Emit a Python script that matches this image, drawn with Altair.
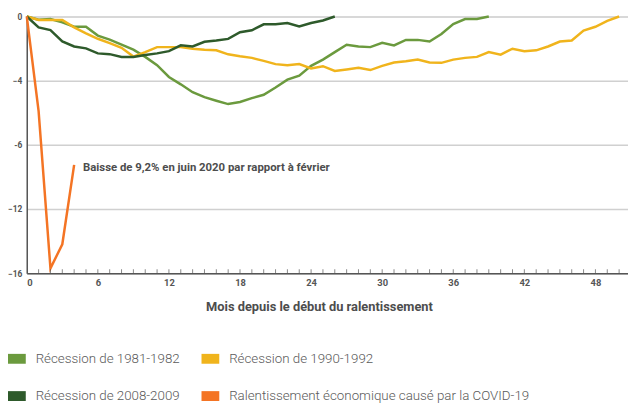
import altair as alt
import pandas as pd

FONT = "Roboto, Liberation Sans, sans-serif"

series_names = [
    "Récession de 1981-1982",
    "Récession de 1990-1992",
    "Récession de 2008-2009",
    "Ralentissement économique causé par la COVID-19",
]
colors = ["#6b9a3e", "#f0b41c", "#2e5a2b", "#f47424"]

months_1981 = list(range(0, 40))
vals_1981 = [0, -0.2, -0.16, -0.37, -0.64, -0.64, -1.19, -1.44, -1.76, -2.07,
             -2.52, -3.04, -3.77, -4.23, -4.72, -5.03, -5.25, -5.46, -5.33, -5.09,
             -4.88, -4.43, -3.94, -3.69, -3.08, -2.69, -2.22, -1.76, -1.87, -1.91,
             -1.64, -1.80, -1.46, -1.46, -1.56, -1.09, -0.47, -0.16, -0.16, 0]

months_1990 = list(range(0, 51))
vals_1990 = [0, -0.22, -0.22, -0.22, -0.68, -1.05, -1.39, -1.66, -1.95, -2.5,
             -2.22, -1.91, -1.91, -1.91, -2.01, -2.08, -2.11, -2.36, -2.48, -2.58,
             -2.77, -2.97, -3.04, -2.97, -3.24, -3.10, -3.40, -3.30, -3.20, -3.34,
             -3.08, -2.87, -2.79, -2.69, -2.87, -2.89, -2.69, -2.58, -2.52, -2.22,
             -2.38, -2.01, -2.17, -2.11, -1.87, -1.56, -1.50, -0.88, -0.64, -0.27, 0]

months_2008 = list(range(0, 27))
vals_2008 = [0, -0.68, -0.85, -1.55, -1.87, -1.99, -2.3, -2.35, -2.52, -2.52,
             -2.4, -2.3, -2.16, -1.8, -1.87, -1.58, -1.5, -1.40, -0.98, -0.86,
             -0.49, -0.49, -0.41, -0.62, -0.41, -0.25, 0]

months_covid = [0, 1, 2, 3, 4]
vals_covid = [0, -5.9, -15.7, -14.2, -9.25]

y_tick_values = [-16, -12, -8, -4, 0]
x_label_values = [0, 6, 12, 18, 24, 30, 36, 42, 48]
minor_tick_months = list(range(1, 51))

ann_x = [4.75]
ann_y = [-9.42]
ann_text = ["Baisse de 9,2% en juin 2020 par rapport à février"]

rows = []
for name, ms, vs in [
    (series_names[0], months_1981, vals_1981),
    (series_names[1], months_1990, vals_1990),
    (series_names[2], months_2008, vals_2008),
    (series_names[3], months_covid, vals_covid),
]:
    for m, v in zip(ms, vs):
        rows.append({"serie": name, "mois": m, "val": v})
df_lines = pd.DataFrame(rows)
df_ticks = pd.DataFrame({"mois": minor_tick_months, "val": [-16] * len(minor_tick_months)})
df_ann = pd.DataFrame({"mois": ann_x, "val": ann_y, "txt": ann_text})

xscale = alt.Scale(domain=[0, 50.75], nice=False, zero=False)
yscale = alt.Scale(domain=[-16, 0], nice=False, zero=False)

x_enc = alt.X(
    "mois:Q",
    scale=xscale,
    title="Mois depuis le début du ralentissement",
    axis=alt.Axis(
        values=x_label_values,
        ticks=False,
        grid=False,
        domainColor="#555555",
        domainWidth=1.5,
        labelFont=FONT,
        labelFontSize=9.5,
        labelFontWeight="bold",
        labelColor="#555555",
        labelPadding=4,
        titleFont=FONT,
        titleFontSize=13,
        titleFontWeight="bold",
        titleColor="#4d4d4d",
        titleX=296,
        titleY=34,
        titleAlign="center",
        titleBaseline="middle",
    ),
)
y_enc = alt.Y(
    "val:Q",
    scale=yscale,
    title=None,
    axis=alt.Axis(
        values=y_tick_values,
        labelExpr="datum.value == -8 ? '-6' : datum.label",
        ticks=False,
        grid=True,
        gridColor="#d0d0d0",
        gridWidth=1.5,
        domainColor="#555555",
        domainWidth=1.5,
        labelFont=FONT,
        labelFontSize=8.5,
        labelFontWeight="bold",
        labelColor="#555555",
        labelPadding=5,
    ),
)
color_enc = alt.Color(
    "serie:N",
    scale=alt.Scale(domain=series_names, range=colors),
    sort=series_names,
    legend=alt.Legend(
        title=None,
        orient="none",
        direction="horizontal",
        legendX=-19.5,
        legendY=337,
        padding=0,
        columns=2,
        columnPadding=1,
        rowPadding=-3,
        symbolType="M-2,0L2,0",
        symbolSize=81,
        symbolStrokeWidth=10,
        labelFont=FONT,
        labelFontSize=13.5,
        labelFontWeight=300,
        labelColor="#5a5a5a",
        labelOffset=9.5,
        labelLimit=400,
    ),
)

lines = alt.Chart(df_lines).mark_line(strokeWidth=2.5).encode(
    x=x_enc, y=y_enc, color=color_enc, detail="serie:N"
)
minor_ticks = alt.Chart(df_ticks).mark_tick(
    orient="vertical", size=4, thickness=1, yOffset=-2, color="#555555"
).encode(x=alt.X("mois:Q", scale=xscale), y=alt.Y("val:Q", scale=yscale))
annotation = alt.Chart(df_ann).mark_text(
    align="left", baseline="middle", font=FONT, fontSize=11.5, fontWeight="bold", color="#4d4d4d"
).encode(x=alt.X("mois:Q", scale=xscale), y=alt.Y("val:Q", scale=yscale), text="txt:N")

chart = (
    alt.layer(lines, minor_ticks, annotation)
    .properties(
        width=609,
        height=260,
        autosize=alt.AutoSizeParams(type="none"),
        padding={"left": 19, "top": 6, "right": 0, "bottom": 134},
    )
    .configure_view(stroke=None)
    .configure(background="white")
)

chart.save("out.html", embed_options={"renderer": "svg", "actions": False})
